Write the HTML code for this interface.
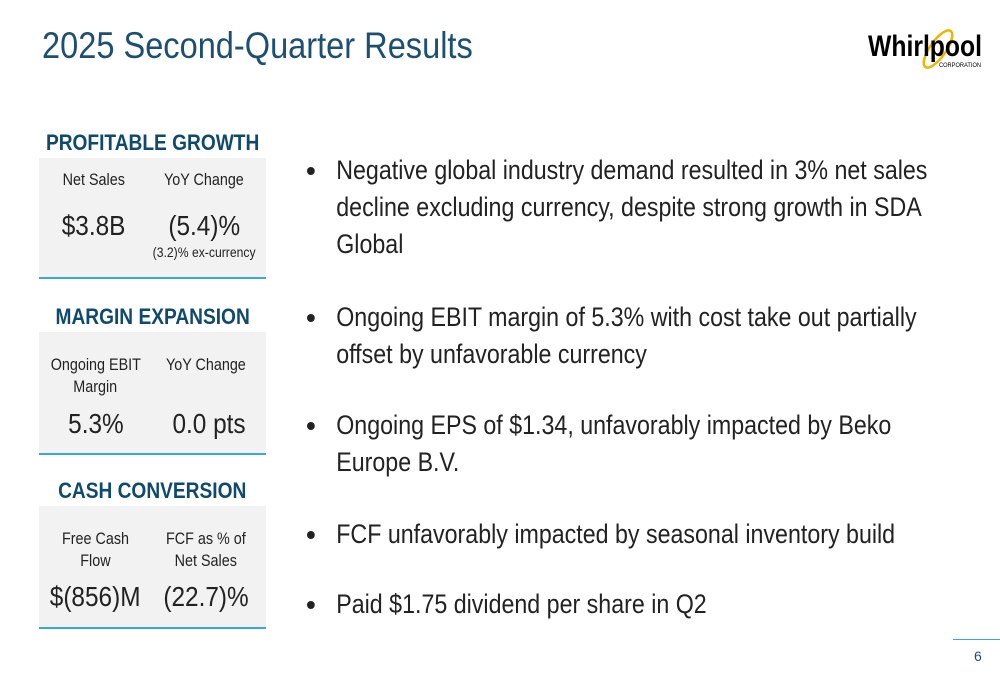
<!DOCTYPE html>
<html><head><meta charset="utf-8"><style>
body{margin:0;width:1000px;height:685px;background:#fff;position:relative;overflow:hidden;font-family:"Liberation Sans",sans-serif;}
.abs{position:absolute}
.sq{display:inline-block;transform:scaleX(.87);transform-origin:center;white-space:nowrap}
.title{left:42px;top:25px;font-size:37px;color:#1d4f73;transform:scaleX(.88);transform-origin:left;white-space:nowrap}
.h{left:20px;width:265px;text-align:center;font-size:22px;color:#0f4a6e;font-weight:bold}
.box{left:39px;width:227px;background:#f2f2f2;border-bottom:2px solid #3aa8dc}
.c{position:absolute;text-align:center;color:#222;}
.lab{font-size:16.5px;line-height:22px}
.val{font-size:28px}
.b{left:307px;width:735px;font-size:27px;color:#222;line-height:37px;transform:scaleX(.86);transform-origin:left top}
.b li{list-style:none;position:relative;padding-left:34px}
.b li:before{content:"";position:absolute;left:0;top:15px;width:9px;height:8px;border-radius:50%;background:#222}
</style></head><body>
<div class="abs title">2025 Second-Quarter Results</div>
<div class="abs" style="left:866px;top:25px;width:120px;height:50px">
<svg width="120" height="50"><ellipse cx="72" cy="24" rx="8" ry="22" transform="rotate(35 72 24)" fill="none" stroke="#f0b400" stroke-width="2.5"/>
<text x="2" y="31" textLength="114" lengthAdjust="spacingAndGlyphs" font-family="Liberation Sans, sans-serif" font-weight="bold" font-size="30" fill="#000">Whirlpool</text>
<text x="73" y="42" textLength="42" lengthAdjust="spacingAndGlyphs" font-family="Liberation Sans" font-size="6" fill="#000">CORPORATION</text></svg></div>

<div class="abs h" style="top:130px"><span class="sq">PROFITABLE GROWTH</span></div>
<div class="abs box" style="top:158px;height:119px">
<div class="c lab" style="left:0;width:110px;top:11px"><span class="sq">Net Sales</span></div>
<div class="c lab" style="left:105px;width:120px;top:11px"><span class="sq">YoY Change</span></div>
<div class="c val" style="left:0;width:110px;top:52px"><span class="sq">$3.8B</span></div>
<div class="c val" style="left:105px;width:120px;top:52px"><span class="sq">(5.4)%</span></div>
<div class="c" style="left:95px;width:140px;top:86px;font-size:14px"><span class="sq">(3.2)% ex-currency</span></div>
</div>

<div class="abs h" style="top:304px"><span class="sq">MARGIN EXPANSION</span></div>
<div class="abs box" style="top:332px;height:121px">
<div class="c lab" style="left:0;width:113px;top:22px"><span class="sq">Ongoing EBIT</span><br><span class="sq">Margin</span></div>
<div class="c lab" style="left:107px;width:120px;top:22px"><span class="sq">YoY Change</span></div>
<div class="c val" style="left:0;width:113px;top:76px"><span class="sq">5.3%</span></div>
<div class="c val" style="left:110px;width:120px;top:76px"><span class="sq">0.0 pts</span></div>
</div>

<div class="abs h" style="top:478px"><span class="sq">CASH CONVERSION</span></div>
<div class="abs box" style="top:506px;height:121px">
<div class="c lab" style="left:0;width:113px;top:22px"><span class="sq">Free Cash</span><br><span class="sq">Flow</span></div>
<div class="c lab" style="left:107px;width:120px;top:22px"><span class="sq">FCF as % of</span><br><span class="sq">Net Sales</span></div>
<div class="c val" style="left:0;width:113px;top:75px"><span class="sq">$(856)M</span></div>
<div class="c val" style="left:107px;width:120px;top:75px"><span class="sq">(22.7)%</span></div>
</div>

<ul class="abs b" style="top:152px;margin:0;padding:0">
<li style="margin-bottom:36px">Negative global industry demand resulted in 3% net sales decline excluding currency, despite strong growth in SDA Global</li>
<li style="margin-bottom:34px">Ongoing EBIT margin of 5.3% with cost take out partially offset by unfavorable currency</li>
<li style="margin-bottom:35px">Ongoing EPS of $1.34, unfavorably impacted by Beko Europe B.V.</li>
<li style="margin-bottom:33px">FCF unfavorably impacted by seasonal inventory build</li>
<li>Paid $1.75 dividend per share in Q2</li>
</ul>

<div class="abs" style="left:953px;top:639px;width:47px;height:1px;background:#3aa8dc"></div>
<div class="abs" style="left:974px;top:648px;font-size:14px;color:#1d4f73">6</div>
</body></html>
